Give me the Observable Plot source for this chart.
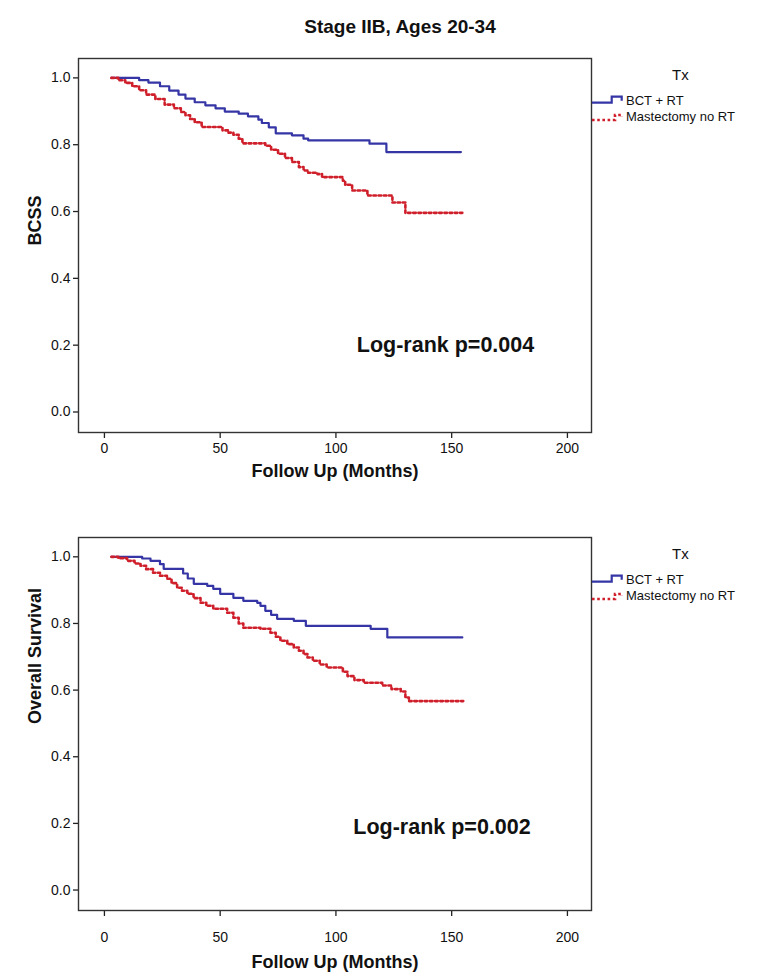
<!DOCTYPE html>
<html>
<head>
<meta charset="utf-8">
<script src="https://cdn.jsdelivr.net/npm/d3@7"></script>
<script src="https://cdn.jsdelivr.net/npm/@observablehq/plot@0.6"></script>
<style>
  html, body { margin: 0; padding: 0; background: #fff; }
  #page { position: relative; width: 758px; height: 978px; overflow: hidden; font-family: "Liberation Sans", Arial, sans-serif; color: #111; }
  .abs { position: absolute; }
  #title { left: 0; width: 800px; top: 16px; text-align: center; font-weight: bold; font-size: 19px; }
  .tx { font-size: 15px; }
  .leg { font-size: 13px; white-space: nowrap; }
</style>
</head>
<body>
<div id="page">
  <div id="title" class="abs">Stage IIB, Ages 20-34</div>
</div>
<script>
// ---- data ----
const title = "Stage IIB, Ages 20-34";
const groups = ["BCT + RT", "Mastectomy no RT"];
const legendTitle = "Tx";
const xTicks = [0, 50, 100, 150, 200];
const yTicks = [0, 0.2, 0.4, 0.6, 0.8, 1.0];
const xTitle = "Follow Up (Months)";

// Panel 1: BCSS
const bcssLabel = "BCSS";
const bcssP = "Log-rank p=0.004";
const bcssBctMonths = [3, 15, 19, 24, 28, 32, 35, 39, 43.6, 48, 52, 58, 62, 66.5, 68, 71, 74, 81, 86, 88, 114.5, 121.8, 154];
const bcssBctSurv   = [1.0, 0.993, 0.986, 0.975, 0.962, 0.95, 0.938, 0.927, 0.918, 0.909, 0.899, 0.893, 0.885, 0.875, 0.865, 0.852, 0.834, 0.828, 0.818, 0.813, 0.803, 0.778, 0.778];
const bcssMastMonths = [3, 6, 9, 12, 15, 18, 22, 26, 30, 33, 35, 37, 39, 42, 51, 53.6, 55.7, 58, 59.6, 69.5, 72, 75, 78, 81, 84, 86, 88, 92, 94, 103, 104, 107, 113.6, 124.4, 130, 154.6];
const bcssMastSurv   = [1.0, 0.993, 0.985, 0.975, 0.963, 0.95, 0.937, 0.92, 0.909, 0.898, 0.888, 0.877, 0.867, 0.853, 0.843, 0.836, 0.83, 0.818, 0.804, 0.797, 0.785, 0.773, 0.76, 0.748, 0.733, 0.723, 0.716, 0.712, 0.703, 0.692, 0.68, 0.663, 0.648, 0.627, 0.596, 0.596];

// Panel 2: Overall survival
const osLabel = "Overall Survival";
const osP = "Log-rank p=0.002";
const osBctMonths = [3, 16.3, 19.9, 24, 25.6, 34, 36, 38.6, 44.4, 47, 50, 55.7, 60, 66, 67.4, 69.5, 72, 74.6, 81.8, 87, 115, 122.2, 154.6];
const osBctSurv   = [1.0, 0.995, 0.988, 0.978, 0.964, 0.95, 0.935, 0.919, 0.913, 0.904, 0.889, 0.877, 0.868, 0.862, 0.853, 0.838, 0.826, 0.814, 0.808, 0.793, 0.784, 0.758, 0.758];
const osMastMonths = [3, 6, 9.8, 13, 15.6, 18, 21, 24, 27, 29, 31.4, 33.5, 35.8, 38.5, 41.5, 44, 47, 53, 55.7, 58, 60, 67.4, 71.7, 74, 76, 79, 81.8, 84, 86, 87.7, 90, 93, 96, 103, 105, 108, 112, 120, 124, 128, 130, 131.5, 155];
const osMastSurv   = [1.0, 0.996, 0.988, 0.98, 0.973, 0.963, 0.952, 0.943, 0.934, 0.921, 0.907, 0.898, 0.889, 0.876, 0.862, 0.853, 0.844, 0.832, 0.817, 0.8, 0.787, 0.784, 0.772, 0.76, 0.748, 0.738, 0.728, 0.718, 0.708, 0.698, 0.688, 0.677, 0.668, 0.655, 0.642, 0.63, 0.622, 0.614, 0.603, 0.596, 0.578, 0.567, 0.567];

// ---- styles ----
const blue = "#3535a6";
const red = "#cf1f2b";
const font = "'Liberation Sans', Arial, sans-serif";
const dots = "2.6,2.6";

function panel({bctM, bctS, mastM, mastS, yLabel, pText, pX, pY, top, height, mTop, mBottom, xPad, xTitleDy}) {
  const bct = bctM.map((m, i) => ({m, s: bctS[i], g: groups[0]}));
  const mast = mastM.map((m, i) => ({m, s: mastS[i], g: groups[1]}));
  const svg = Plot.plot({
    width: 758, height,
    marginLeft: 78, marginRight: 167, marginTop: mTop, marginBottom: mBottom,
    x: {domain: [-11.2, 210.4]},
    y: {domain: [-0.0614, 1.058]},
    style: {fontFamily: font, color: "#111", background: "transparent", overflow: "visible"},
    marks: [
      Plot.axisY(yTicks, {tickSize: 5, tickPadding: 3, tickFormat: d3.format(".1f"), fontSize: 14, label: null, stroke: "#222", strokeWidth: 1.3}),
      Plot.axisX(xTicks, {tickSize: 6, tickPadding: xPad, fontSize: 14, label: null, stroke: "#222", strokeWidth: 1.3}),
      Plot.line(bct, {x: "m", y: "s", curve: "step-after", stroke: blue, strokeWidth: 2.2}),
      Plot.line(mast, {x: "m", y: "s", curve: "step-after", stroke: red, strokeWidth: 2.6, strokeDasharray: dots}),
      Plot.frame({stroke: "#333", strokeWidth: 1.4}),
      Plot.text([pText], {x: pX, y: pY, text: d => d, textAnchor: "start", fontSize: 21.5, fontWeight: "bold", fill: "#111"}),
      Plot.text([yLabel], {frameAnchor: "left", text: d => d, rotate: -90, dx: -43, fontSize: 18, fontWeight: "bold", fill: "#111"}),
      Plot.text([xTitle], {frameAnchor: "bottom", text: d => d, dy: xTitleDy, fontSize: 18, fontWeight: "bold", fill: "#111"})
    ]
  });
  svg.style.position = "absolute";
  svg.style.left = "0px";
  svg.style.top = top + "px";
  return svg;
}

function legend(top) {
  const div = document.createElement("div");
  div.className = "abs";
  div.style.left = "0px"; div.style.top = top + "px";
  div.innerHTML = `
    <div class="abs tx" style="left:672px;top:8px;">${legendTitle}</div>
    <svg class="abs" style="left:590px;top:34px;overflow:visible" width="34" height="30">
      <path d="M2,10.7 H21.7 V4.7 H31.7 V8.7" fill="none" stroke="${blue}" stroke-width="2.2"/>
      <path d="M2,28 H25 V23 H31.7 V25" fill="none" stroke="${red}" stroke-width="2.6" stroke-dasharray="${dots}"/>
    </svg>
    <div class="abs leg" style="left:626px;top:35px;">${groups[0]}</div>
    <div class="abs leg" style="left:626px;top:51px;">${groups[1]}</div>`;
  return div;
}

const page = document.getElementById("page");
document.getElementById("title").textContent = title;

// top panel: frame y 58..432
page.appendChild(panel({bctM: bcssBctMonths, bctS: bcssBctSurv, mastM: bcssMastMonths, mastS: bcssMastSurv,
  yLabel: bcssLabel, pText: bcssP, pX: 109, pY: 0.2, top: 45, height: 465, mTop: 13, mBottom: 78, xPad: 5, xTitleDy: 44}));
page.appendChild(legend(58));

// bottom panel: frame y 537..910
page.appendChild(panel({bctM: osBctMonths, bctS: osBctSurv, mastM: osMastMonths, mastS: osMastSurv,
  yLabel: osLabel, pText: osP, pX: 107.5, pY: 0.19, top: 515, height: 463, mTop: 22, mBottom: 68, xPad: 16, xTitleDy: 57}));
page.appendChild(legend(537));
</script>
</body>
</html>
